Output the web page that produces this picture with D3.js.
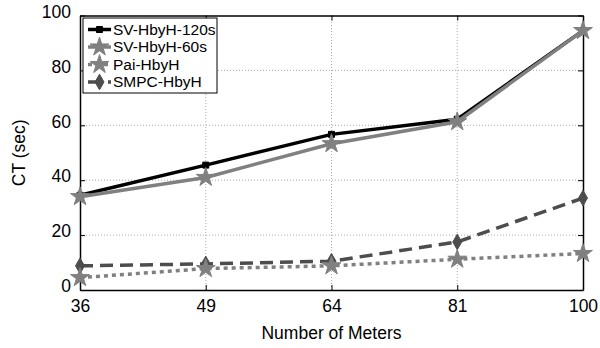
<!DOCTYPE html>
<html>
<head>
<meta charset="utf-8">
<script src="https://cdn.jsdelivr.net/npm/d3@7"></script>
<style>
  body { margin: 0; background: #fff; }
  text { font-family: "Liberation Sans", Arial, sans-serif; fill: #000; }
</style>
</head>
<body>
<script>
// chart values
const meters = [36, 49, 64, 81, 100];
const sv120 = [34.5, 45.5, 56.7, 62.2, 94.5];
const sv60 = [34, 41, 53.3, 61.3, 94.5];
const pai = [4.5, 7.8, 8.8, 11.2, 13.3];
const smpc = [8.8, 9.5, 10.5, 17.5, 33.5];
const yTicks = [0, 20, 40, 60, 80, 100];

const seriesNames = ["SV-HbyH-120s", "SV-HbyH-60s", "Pai-HbyH", "SMPC-HbyH"];

const width = 600, height = 348;
const margin = {top: 15.5, right: 17, bottom: 58, left: 80};

const svg = d3.select("body").append("svg")
  .attr("width", width)
  .attr("height", height);

const x = d3.scalePoint().domain(meters).range([margin.left, width - margin.right]);
const y = d3.scaleLinear().domain([0, 100]).range([height - margin.bottom, margin.top]);

const x0 = margin.left, x1 = width - margin.right;
const y0 = height - margin.bottom, y1 = margin.top;

// dotted grid
const grid = svg.append("g");
grid.selectAll(".gx").data(meters.slice(1, -1)).enter().append("line")
  .attr("x1", d => x(d)).attr("x2", d => x(d))
  .attr("y1", y0).attr("y2", y1)
  .attr("stroke", "#aaa").attr("stroke-width", 1).attr("stroke-dasharray", "1,2");
grid.selectAll(".gy").data(yTicks.slice(1, -1)).enter().append("line")
  .attr("x1", x0).attr("x2", x1)
  .attr("y1", d => y(d)).attr("y2", d => y(d))
  .attr("stroke", "#aaa").attr("stroke-width", 1).attr("stroke-dasharray", "1,2");

// axes with inward ticks, matlab style
const bottomAxis = svg.append("g").attr("transform", `translate(0,${y0})`)
  .call(d3.axisBottom(x).tickSizeInner(-5).tickSizeOuter(0).tickPadding(8));
const leftAxis = svg.append("g").attr("transform", `translate(${x0},0)`)
  .call(d3.axisLeft(y).tickValues(yTicks).tickSizeInner(-5).tickSizeOuter(0).tickPadding(9));
const topAxis = svg.append("g").attr("transform", `translate(0,${y1})`)
  .call(d3.axisTop(x).tickSizeInner(-5).tickSizeOuter(0).tickFormat(""));
const rightAxis = svg.append("g").attr("transform", `translate(${x1},0)`)
  .call(d3.axisRight(y).tickValues(yTicks).tickSizeInner(-5).tickSizeOuter(0).tickFormat(""));

[bottomAxis, leftAxis, topAxis, rightAxis].forEach(a => {
  a.select(".domain").attr("stroke", "#000").attr("stroke-width", 1.5);
  a.selectAll(".tick line").attr("stroke", "#000").attr("stroke-width", 1);
  a.selectAll("text").attr("font-size", 17.5).attr("font-family", "Liberation Sans, Arial, sans-serif");
});
leftAxis.selectAll(".tick text").attr("dy", "0.1em");
bottomAxis.selectAll(".tick text").attr("dy", "0.8em");

// axis titles
svg.append("text")
  .attr("x", (x0 + x1) / 2).attr("y", 339)
  .attr("text-anchor", "middle").attr("font-size", 17.5)
  .text("Number of Meters");
svg.append("text")
  .attr("transform", `translate(25,${(y0 + y1) / 2}) rotate(-90)`)
  .attr("text-anchor", "middle").attr("font-size", 17.5)
  .text("CT (sec)");

// series
const star = d3.symbol().type(d3.symbolStar).size(110);
const square = d3.symbol().type(d3.symbolSquare).size(36);
const diamond = d3.symbol().type(d3.symbolDiamond).size(70);

const series = [
  {name: seriesNames[0], values: sv120, color: "#000", dash: null, sym: square},
  {name: seriesNames[1], values: sv60, color: "#808080", dash: null, sym: star},
  {name: seriesNames[2], values: pai, color: "#808080", dash: "4,4", sym: star},
  {name: seriesNames[3], values: smpc, color: "#4d4d4d", dash: "13,7", sym: diamond}
];

const line = d3.line().x((d, i) => x(meters[i])).y(d => y(d));

// draw lower series first so the black line sits under the gray one like the original
const drawOrder = [3, 2, 0, 1];
drawOrder.forEach(k => {
  const s = series[k];
  svg.append("path")
    .attr("d", line(s.values))
    .attr("fill", "none")
    .attr("stroke", s.color)
    .attr("stroke-width", 3.5)
    .attr("stroke-dasharray", s.dash);
  svg.selectAll(null).data(s.values).enter().append("path")
    .attr("d", s.sym)
    .attr("transform", (d, i) => `translate(${x(meters[i])},${y(d)})`)
    .attr("fill", s.color)
    .attr("stroke", s.color)
    .attr("stroke-width", 1);
});

// legend
const legend = svg.append("g");
legend.append("rect")
  .attr("x", 83).attr("y", 18).attr("width", 134).attr("height", 75)
  .attr("fill", "#fff").attr("stroke", "#000").attr("stroke-width", 1);
series.forEach((s, i) => {
  const ly = 29.5 + i * 17.5;
  legend.append("line")
    .attr("x1", 88).attr("x2", 111).attr("y1", ly).attr("y2", ly)
    .attr("stroke", s.color).attr("stroke-width", 3.5)
    .attr("stroke-dasharray", s.dash);
  legend.append("path")
    .attr("d", s.sym)
    .attr("transform", `translate(99.5,${ly})`)
    .attr("fill", s.color).attr("stroke", s.color);
  legend.append("text")
    .attr("x", 113).attr("y", ly).attr("dy", "0.35em")
    .attr("font-size", 15.5)
    .text(s.name);
});
</script>
</body>
</html>
